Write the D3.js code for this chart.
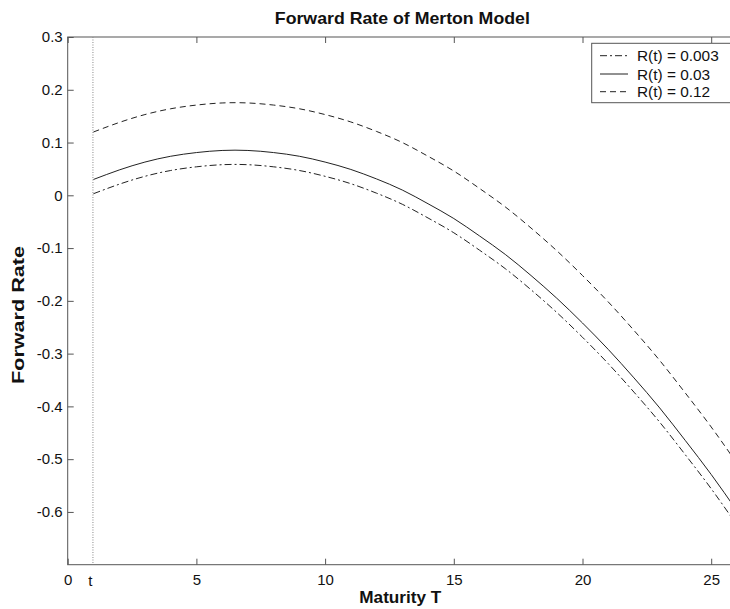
<!DOCTYPE html>
<html>
<head>
<meta charset="utf-8">
<script src="https://cdn.jsdelivr.net/npm/d3@7"></script>
<style>
  html, body { margin: 0; padding: 0; background: #fff; }
  svg { display: block; font-family: "Liberation Sans", Arial, sans-serif; }
</style>
</head>
<body>
<svg id="chart" width="730" height="609"></svg>
<script>
// Maturity grid (years) starting at the current time t = 1
const maturities = [1, 2, 3, 4, 5, 6, 7, 8, 9, 10, 11, 12, 13, 14, 15, 16, 17, 18, 19, 20, 21, 22, 23, 24, 25, 26];

// Forward rate curves for three levels of the short rate R(t)
const fwdLow = [0.003, 0.021, 0.036, 0.047, 0.054, 0.058, 0.058, 0.054, 0.047, 0.036, 0.022, 0.004, -0.017,
  -0.043, -0.071, -0.104, -0.139, -0.179, -0.222, -0.269, -0.319, -0.373, -0.430, -0.492, -0.556, -0.625];
const fwdMid = [0.030, 0.048, 0.063, 0.074, 0.081, 0.085, 0.085, 0.081, 0.074, 0.063, 0.049, 0.031, 0.010,
  -0.016, -0.044, -0.077, -0.112, -0.152, -0.195, -0.242, -0.292, -0.346, -0.403, -0.465, -0.529, -0.598];
const fwdHigh = [0.120, 0.138, 0.153, 0.164, 0.171, 0.175, 0.175, 0.171, 0.164, 0.153, 0.139, 0.121, 0.100,
  0.074, 0.046, 0.013, -0.022, -0.062, -0.105, -0.152, -0.202, -0.256, -0.313, -0.375, -0.439, -0.508];

const seriesNames = ["R(t) = 0.003", "R(t) = 0.03", "R(t) = 0.12"];
const xTicks = [0, 5, 10, 15, 20, 25];
const yTicks = [-0.6, -0.5, -0.4, -0.3, -0.2, -0.1, 0, 0.1, 0.2, 0.3];
const tStart = 1;

const series = [
  { name: seriesNames[0], values: fwdLow,  dash: "7,3,2,3" },
  { name: seriesNames[1], values: fwdMid,  dash: null },
  { name: seriesNames[2], values: fwdHigh, dash: "6,4" }
];

const svg = d3.select("#chart");
const plotLeft = 67.7, plotTop = 37, plotBottom = 564.7;
const x = d3.scaleLinear().domain([0, 26]).range([plotLeft, plotLeft + 26 * 25.74]);
const y = d3.scaleLinear().domain([-0.7, 0.3]).range([plotBottom, plotTop]);
const plotRight = x(26);

const ink = "#222";
const axisColor = "#555";
const fontStack = "Liberation Sans, Arial, sans-serif";

svg.append("defs").append("clipPath").attr("id", "plotClip")
  .append("rect").attr("x", plotLeft).attr("y", plotTop)
  .attr("width", plotRight - plotLeft).attr("height", plotBottom - plotTop);

// Title
svg.append("text")
  .attr("x", (plotLeft + plotRight) / 2).attr("y", 24)
  .attr("text-anchor", "middle")
  .attr("font-size", 16.5).attr("font-weight", "bold")
  .attr("textLength", 255).attr("lengthAdjust", "spacingAndGlyphs")
  .attr("fill", "#111")
  .text("Forward Rate of Merton Model");

// Axes box
svg.append("rect")
  .attr("x", plotLeft).attr("y", plotTop).attr("width", plotRight - plotLeft).attr("height", plotBottom - plotTop)
  .attr("fill", "none").attr("stroke", axisColor).attr("stroke-width", 1);

// Bottom axis, ticks pointing inward
const xAxisBottom = d3.axisBottom(x).tickValues(xTicks).tickSizeInner(-6).tickSizeOuter(0).tickPadding(10);
const gx = svg.append("g").attr("transform", `translate(0,${plotBottom})`).call(xAxisBottom);
gx.select(".domain").remove();
gx.selectAll(".tick line").attr("stroke", axisColor);
gx.selectAll(".tick text").attr("font-size", 15).attr("fill", "#111").attr("font-family", fontStack);

// Top axis ticks
const gxTop = svg.append("g").attr("transform", `translate(0,${plotTop})`)
  .call(d3.axisTop(x).tickValues(xTicks).tickSizeInner(-6).tickSizeOuter(0).tickFormat(""));
gxTop.select(".domain").remove();
gxTop.selectAll(".tick line").attr("stroke", axisColor);

// Left axis (plain hyphen for negative values)
const yAxis = d3.axisLeft(y).tickValues(yTicks).tickSizeInner(-6).tickSizeOuter(0).tickPadding(5)
  .tickFormat(d => d === 0 ? "0" : d.toFixed(1));
const gy = svg.append("g").attr("transform", `translate(${plotLeft},0)`).call(yAxis);
gy.select(".domain").remove();
gy.selectAll(".tick line").attr("stroke", axisColor);
gy.selectAll(".tick text").attr("font-size", 15).attr("fill", "#111").attr("font-family", fontStack);

// Right axis ticks
const gyR = svg.append("g").attr("transform", `translate(${plotRight},0)`)
  .call(d3.axisRight(y).tickValues(yTicks).tickSizeInner(-6).tickSizeOuter(0).tickFormat(""));
gyR.select(".domain").remove();
gyR.selectAll(".tick line").attr("stroke", axisColor);

// Label for the current time t
svg.append("text")
  .attr("x", x(tStart) - 3).attr("y", plotBottom + 21)
  .attr("text-anchor", "middle").attr("font-size", 15).attr("fill", "#111")
  .text("t");

// Axis titles
svg.append("text")
  .attr("x", (plotLeft + plotRight) / 2 - 2).attr("y", 603)
  .attr("text-anchor", "middle").attr("font-size", 17).attr("font-weight", "bold").attr("fill", "#111")
  .attr("textLength", 82).attr("lengthAdjust", "spacingAndGlyphs")
  .text("Maturity T");

svg.append("text")
  .attr("transform", `translate(24,315) rotate(-90)`)
  .attr("text-anchor", "middle").attr("font-size", 17).attr("font-weight", "bold").attr("fill", "#111")
  .attr("textLength", 138).attr("lengthAdjust", "spacingAndGlyphs")
  .text("Forward Rate");

// Vertical dotted marker at t
svg.append("line")
  .attr("x1", x(tStart) - 0.5).attr("x2", x(tStart) - 0.5)
  .attr("y1", plotTop).attr("y2", plotBottom)
  .attr("stroke", "#888").attr("stroke-width", 1).attr("stroke-dasharray", "1,1.5");

// Forward rate curves
const line = d3.line()
  .x((d, i) => x(maturities[i]))
  .y(d => y(d))
  .curve(d3.curveNatural);

const plot = svg.append("g").attr("clip-path", "url(#plotClip)");
series.forEach(s => {
  plot.append("path")
    .datum(s.values)
    .attr("d", line)
    .attr("fill", "none")
    .attr("stroke", ink)
    .attr("stroke-width", 1)
    .attr("stroke-dasharray", s.dash);
});

// Legend
const legX = 591.7, legY = 43.3, legW = 145, legH = 59.4;
const leg = svg.append("g");
leg.append("rect")
  .attr("x", legX).attr("y", legY).attr("width", legW).attr("height", legH)
  .attr("fill", "#fff").attr("stroke", axisColor).attr("stroke-width", 1);
const rowY = [55.7, 74, 91.7];
series.forEach((s, i) => {
  leg.append("line")
    .attr("x1", 600).attr("x2", 628)
    .attr("y1", rowY[i]).attr("y2", rowY[i])
    .attr("stroke", ink).attr("stroke-width", 1)
    .attr("stroke-dasharray", s.dash);
  leg.append("text")
    .attr("x", 637).attr("y", rowY[i] + 5.5)
    .attr("font-size", 15.4).attr("fill", "#111")
    .text(s.name);
});
</script>
</body>
</html>
